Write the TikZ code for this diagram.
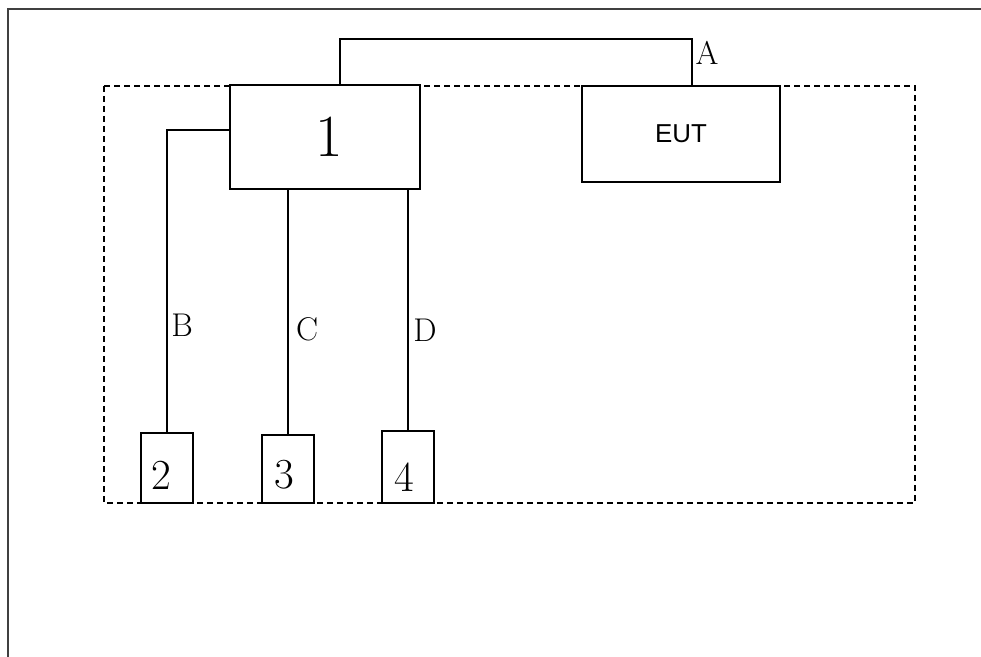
\documentclass[tikz,border=0pt]{standalone}
\usepackage{fontspec}
\newfontfamily\arialfont{Liberation Sans}
\begin{document}
\begin{tikzpicture}[x=1bp,y=-1bp,
  frame/.style={line width=2bp,draw=black!75},
  wire/.style={line width=2bp,draw=black},
  boxn/.style={rectangle,draw=black,line width=2bp,inner sep=0pt},
  letter/.style={inner sep=0pt,font=\fontsize{33}{33}\selectfont},
  digit/.style={inner sep=0pt,font=\fontsize{43}{43}\selectfont}]
\useasboundingbox (0,0) rectangle (981,657);
% outer frame
\coordinate (fbl) at (8,660);
\coordinate (ftl) at (8,9);
\coordinate (ftr) at (984,9);
\draw[frame] (fbl) -- (ftl) -- (ftr);
% dashed enclosure
\draw[line width=2bp,dash pattern=on 6bp off 4bp] (104,86) rectangle (915,503);
% boxes
\node[boxn,fill=white,minimum width=190bp,minimum height=104bp] (b1) at (325,137) {};
\node[inner sep=0pt,font=\fontsize{60}{60}\selectfont] (t1) at (329,137) {1};
\node[boxn,fill=white,minimum width=198bp,minimum height=96bp,font=\arialfont\fontsize{26}{26}\selectfont] (eut) at (681,134) {EUT};
\node[boxn,minimum width=52bp,minimum height=70bp] (b2) at (167,468) {};
\node[boxn,minimum width=52bp,minimum height=68bp] (b3) at (288,469) {};
\node[boxn,minimum width=52bp,minimum height=72bp] (b4) at (408,467) {};
\node[digit] (t2) at (161,475) {2};
\node[digit] (t3) at (284,475) {3};
\node[digit] (t4) at (404,477) {4};
% connectors
\coordinate (a1) at (340,39);
\coordinate (a2) at (692,39);
\draw[wire] (b1.north -| a1) -- (a1) -- (a2) -- (eut.north -| a2);
\coordinate (bk) at (167,130);
\draw[wire] (b1.west |- bk) -- (bk) -- (b2.north);
\draw[wire] (b1.south -| b3.north) -- (b3.north);
\draw[wire] (b1.south -| b4.north) -- (b4.north);
% labels
\node[letter] (la) at (707,53) {A};
\node[letter] (lb) at (182,325) {B};
\node[letter] (lc) at (307,329) {C};
\node[letter] (ld) at (425,330) {D};
\end{tikzpicture}
\end{document}
